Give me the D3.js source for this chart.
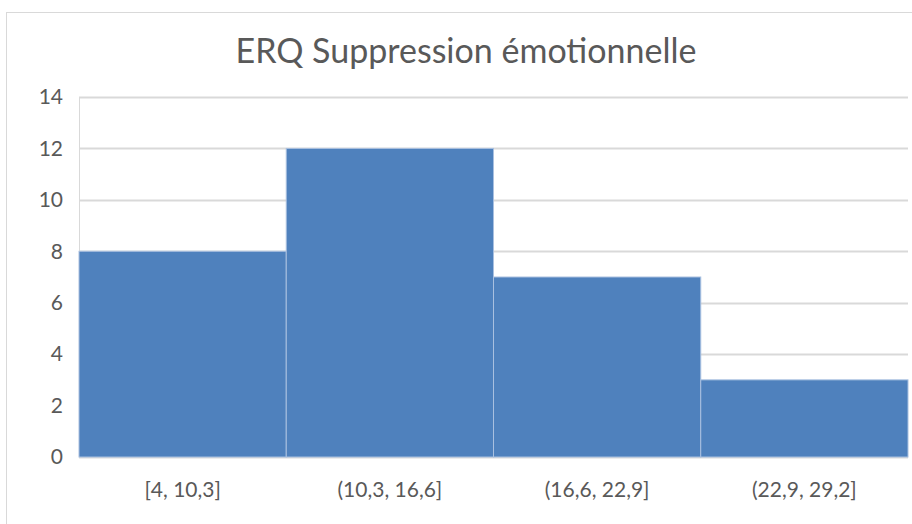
<!DOCTYPE html>
<html>
<head>
<meta charset="utf-8">
<script src="https://cdn.jsdelivr.net/npm/d3@7"></script>
<style>
  body { margin: 0; background: #fff; }
  svg text { font-family: Lato, "Open Sans", sans-serif; fill: #595959; }
</style>
</head>
<body>
<div id="chart"></div>
<script>
var categories = ["[4, 10,3]", "(10,3, 16,6]", "(16,6, 22,9]", "(22,9, 29,2]"];
var counts = [8, 12, 7, 3];
var yTicks = [0, 2, 4, 6, 8, 10, 12, 14];
var chartTitle = "ERQ Suppression émotionnelle";

var width = 912, height = 524;
var margin = {top: 97, right: 4, bottom: 67, left: 79};
var innerW = width - margin.left - margin.right,
    innerH = height - margin.top - margin.bottom;

var svg = d3.select("#chart").append("svg")
  .attr("width", width)
  .attr("height", height);

// chart frame, runs off the right and bottom
svg.append("rect")
  .attr("x", 6.5).attr("y", 12.5)
  .attr("width", width).attr("height", height)
  .attr("fill", "none")
  .attr("stroke", "#d9d9d9");

svg.append("text")
  .attr("x", 466).attr("y", 63)
  .attr("text-anchor", "middle")
  .style("font-size", "34px")
  .text(chartTitle);

var g = svg.append("g")
  .attr("transform", `translate(${margin.left},${margin.top})`);

var x = d3.scaleBand().domain(categories).range([0, innerW]).padding(0);
var y = d3.scaleLinear().domain([0, 14]).range([innerH, 0]);

// gridlines
g.append("g").attr("class", "grid")
  .selectAll("line")
  .data(yTicks)
  .enter().append("line")
  .attr("x1", 0).attr("x2", innerW)
  .attr("y1", d => Math.round(y(d)) + 0.5)
  .attr("y2", d => Math.round(y(d)) + 0.5)
  .attr("stroke", "#d9d9d9")
  .attr("stroke-width", 2);

g.append("line")
  .attr("x1", 0.5).attr("x2", 0.5)
  .attr("y1", 0).attr("y2", innerH)
  .attr("stroke", "#d9d9d9");

g.selectAll(".bar")
  .data(counts)
  .enter().append("rect")
  .attr("class", "bar")
  .attr("x", (d, i) => x(categories[i]))
  .attr("y", d => y(d))
  .attr("width", x.bandwidth())
  .attr("height", d => innerH - y(d))
  .attr("fill", "#4f81bd")
  .attr("stroke", "#a9c0e0")
  .attr("stroke-width", 1);

var yAxis = d3.axisLeft(y).tickValues(yTicks).tickSize(0).tickPadding(16);
g.append("g").call(yAxis)
  .call(s => s.select(".domain").remove())
  .selectAll("text").style("font-size", "21px");

var xAxis = d3.axisBottom(x).tickSize(0).tickPadding(25);
g.append("g").attr("transform", `translate(0,${innerH})`)
  .call(xAxis)
  .call(s => s.select(".domain").remove())
  .selectAll("text").style("font-size", "21px");
</script>
</body>
</html>
